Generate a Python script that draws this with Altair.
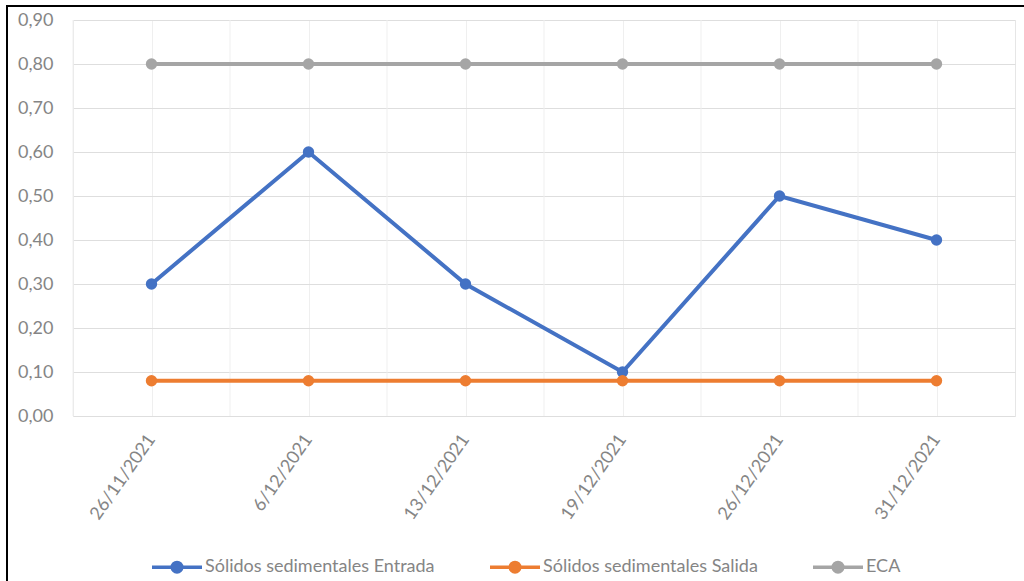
import altair as alt
import pandas as pd

# Fechas de muestreo y resultados (mL/L)
fechas = ["26/11/2021", "6/12/2021", "13/12/2021", "19/12/2021", "26/12/2021", "31/12/2021"]
entrada = [0.30, 0.60, 0.30, 0.10, 0.50, 0.40]
salida = [0.08, 0.08, 0.08, 0.08, 0.08, 0.08]
eca = [0.80, 0.80, 0.80, 0.80, 0.80, 0.80]

series = ["Sólidos sedimentales Entrada", "Sólidos sedimentales Salida", "ECA"]
colores = ["#4472C4", "#ED7D31", "#A5A5A5"]
y_ticks = [0.0, 0.1, 0.2, 0.3, 0.4, 0.5, 0.6, 0.7, 0.8, 0.9]

rows = []
for nombre, valores in zip(series, [entrada, salida, eca]):
    for f, v in zip(fechas, valores):
        rows.append({"fecha": f, "serie": nombre, "valor": v})
df = pd.DataFrame(rows)
df_fechas = pd.DataFrame({"fecha": fechas})

W, H = 942, 396
STEP = W / len(fechas)
FONT = "Lato"
TXT = "#858585"
FS = 18

x_scale = alt.Scale(type="point", padding=0.5)

x_enc = alt.X(
    "fecha:N",
    sort=fechas,
    scale=x_scale,
    axis=alt.Axis(
        title=None,
        labelAngle=305,
        labelAlign="right",
        labelBaseline="middle",
        labelPadding=20,
        labelFontSize=FS,
        labelFont=FONT,
        labelColor=TXT,
        domain=False,
        ticks=False,
        grid=True,
        gridColor="#efefef",
    ),
)
y_enc = alt.Y(
    "valor:Q",
    scale=alt.Scale(domain=[0, 0.9], nice=False),
    axis=alt.Axis(
        title=None,
        values=y_ticks,
        labelExpr="replace(format(datum.value, '.2f'), '.', ',')",
        labelFontSize=FS,
        labelFont=FONT,
        labelColor=TXT,
        labelPadding=20,
        domain=False,
        ticks=False,
        grid=True,
        gridColor="#dedede",
    ),
)

leyenda = alt.Legend(
    title=None,
    orient="none",
    legendX=77,
    legendY=520,
    direction="horizontal",
    symbolType="M-1,0L1,0M0.19,0A0.19,0.19,0,1,1,-0.19,0A0.19,0.19,0,1,1,0.19,0Z",
    symbolSize=2500,
    symbolStrokeWidth=3.5,
    labelFontSize=FS,
    labelFont=FONT,
    labelColor=TXT,
    labelOffset=1,
    labelLimit=0,
    columnPadding=48,
)
color_enc = alt.Color(
    "serie:N",
    sort=series,
    scale=alt.Scale(domain=series, range=colores),
    legend=leyenda,
)

# Separadores verticales entre categorías
separadores = alt.Chart(df_fechas).mark_rule(
    color="#efefef", strokeWidth=1, xOffset=-STEP / 2
).encode(x=alt.X("fecha:N", sort=fechas, scale=x_scale), y=alt.value(0), y2=alt.value(H))

lineas = alt.Chart(df).mark_line(strokeWidth=4).encode(x=x_enc, y=y_enc, color=color_enc)
puntos = alt.Chart(df).mark_circle(size=130, opacity=1).encode(x=x_enc, y=y_enc, color=color_enc)

marco = alt.Chart(pd.DataFrame({"k": [0]})).mark_rect(
    filled=False, stroke="black", strokeWidth=2
).encode(x=alt.value(-66), x2=alt.value(W + 20), y=alt.value(-14), y2=alt.value(H + 200))

chart = (
    alt.layer(separadores, lineas, puntos, marco)
    .properties(
        width=W,
        height=H,
        autosize=alt.AutoSizeParams(type="none"),
        padding={"left": 73, "top": 20, "right": 9, "bottom": 165},
        background="white",
    )
    .configure_view(stroke="#e6e6e6")
)

chart.save("out.html", embed_options={"renderer": "svg", "actions": False})
